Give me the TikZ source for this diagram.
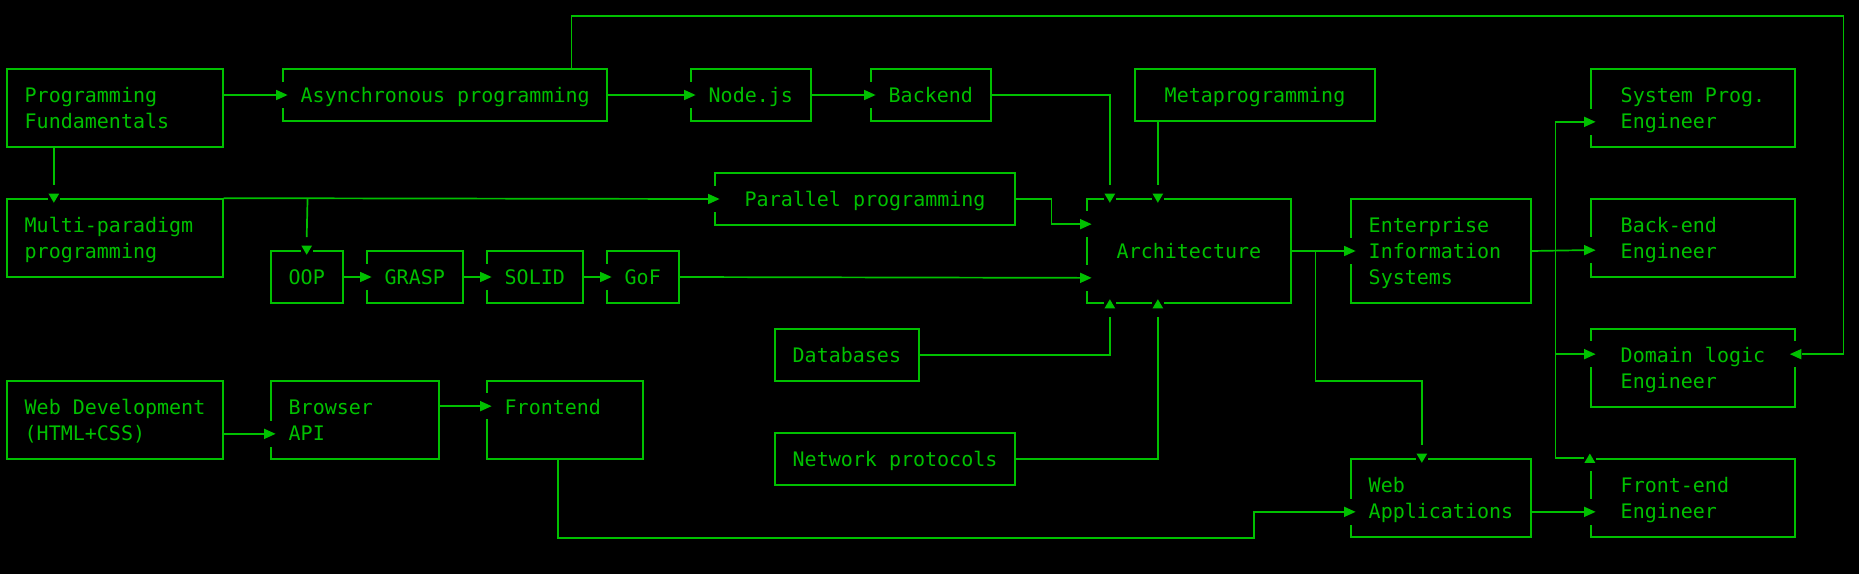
\documentclass[tikz,border=0pt]{standalone}
\usepackage{fontspec}
\newfontfamily\termfont{DejaVu Sans Mono}
\usetikzlibrary{calc,fit}
\definecolor{term}{RGB}{0,192,0}
\tikzset{
  gbox/.style={draw=term, line width=0.85pt, inner sep=0pt, minimum width=0pt, minimum height=0pt},
  txt/.style={anchor=base west, yshift=-3.85pt, inner sep=0pt, outer sep=0pt, text=term,
              font=\termfont\fontsize{10pt}{13pt}\selectfont},
  conn/.style={draw=term, line width=0.85pt},
  arR/.pic={\fill[black] (-0.9pt,-6.5pt) rectangle (0.9pt,6.5pt);
            \fill[term] (-2.85pt,-2.6pt) -- (2.85pt,0pt) -- (-2.85pt,2.6pt) -- cycle;},
  arL/.pic={\fill[black] (-0.9pt,-6.5pt) rectangle (0.9pt,6.5pt);
            \fill[term] (2.85pt,-2.6pt) -- (-2.85pt,0pt) -- (2.85pt,2.6pt) -- cycle;},
  arD/.pic={\fill[black] (-3pt,-0.9pt) rectangle (3pt,0.9pt);
            \fill[term] (-2.7pt,2.3pt) -- (2.7pt,2.3pt) -- (0pt,-2.3pt) -- cycle;},
  arU/.pic={\fill[black] (-3pt,-0.9pt) rectangle (3pt,0.9pt);
            \fill[term] (-2.7pt,-2.3pt) -- (2.7pt,-2.3pt) -- (0pt,2.3pt) -- cycle;},
  arUc/.pic={\fill[black] (-3pt,-0.9pt) rectangle (3pt,0.9pt);
             \fill[black] (-0.9pt,0.9pt) rectangle (0.9pt,-6.5pt);
             \fill[term] (-2.7pt,-2.3pt) -- (2.7pt,-2.3pt) -- (0pt,2.3pt) -- cycle;},
}
\newcommand\gbox[5]{\node[gbox, fit={(#2,#3) (#4,#5)}] (#1) {};}
\newcommand\ttext[4]{\node[txt] (#1) at (#2-0.5,#3) {#4};}
\begin{document}
\begin{tikzpicture}[x=6pt,y=-13pt]
\fill[black] (-0.55833,-0.653846) rectangle (154.35833,21.423077);
\useasboundingbox (-0.55833,-0.653846) rectangle (154.35833,21.423077);

% boxes
\gbox{pf}{0}{2}{18}{5}
\gbox{async}{23}{2}{50}{4}
\gbox{node}{57}{2}{67}{4}
\gbox{backend}{72}{2}{82}{4}
\gbox{meta}{94}{2}{114}{4}
\gbox{multi}{0}{7}{18}{10}
\gbox{par}{59}{6}{84}{8}
\gbox{oop}{22}{9}{28}{11}
\gbox{grasp}{30}{9}{38}{11}
\gbox{solid}{40}{9}{48}{11}
\gbox{gof}{50}{9}{56}{11}
\gbox{arch}{90}{7}{107}{11}
\gbox{eis}{112}{7}{127}{11}
\gbox{sysprog}{132}{2}{149}{5}
\gbox{backeng}{132}{7}{149}{10}
\gbox{domain}{132}{12}{149}{15}
\gbox{fronteng}{132}{17}{149}{20}
\gbox{webapp}{112}{17}{127}{20}
\gbox{webdev}{0}{14}{18}{17}
\gbox{browser}{22}{14}{36}{17}
\gbox{frontend}{40}{14}{53}{17}
\gbox{db}{64}{12}{76}{14}
\gbox{net}{64}{16}{84}{18}

% texts
\ttext{pf-1}{2}{3}{Programming}
\ttext{pf-2}{2}{4}{Fundamentals}
\ttext{async-1}{25}{3}{Asynchronous programming}
\ttext{node-1}{59}{3}{Node.js}
\ttext{backend-1}{74}{3}{Backend}
\ttext{meta-1}{97}{3}{Metaprogramming}
\ttext{multi-1}{2}{8}{Multi-paradigm}
\ttext{multi-2}{2}{9}{programming}
\ttext{par-1}{62}{7}{Parallel programming}
\ttext{oop-1}{24}{10}{OOP}
\ttext{grasp-1}{32}{10}{GRASP}
\ttext{solid-1}{42}{10}{SOLID}
\ttext{gof-1}{52}{10}{GoF}
\ttext{arch-1}{93}{9}{Architecture}
\ttext{eis-1}{114}{8}{Enterprise}
\ttext{eis-2}{114}{9}{Information}
\ttext{eis-3}{114}{10}{Systems}
\ttext{sysprog-1}{135}{3}{System Prog.}
\ttext{sysprog-2}{135}{4}{Engineer}
\ttext{backeng-1}{135}{8}{Back-end}
\ttext{backeng-2}{135}{9}{Engineer}
\ttext{domain-1}{135}{13}{Domain logic}
\ttext{domain-2}{135}{14}{Engineer}
\ttext{fronteng-1}{135}{18}{Front-end}
\ttext{fronteng-2}{135}{19}{Engineer}
\ttext{webapp-1}{114}{18}{Web}
\ttext{webapp-2}{114}{19}{Applications}
\ttext{webdev-1}{2}{15}{Web Development}
\ttext{webdev-2}{2}{16}{(HTML+CSS)}
\ttext{browser-1}{24}{15}{Browser}
\ttext{browser-2}{24}{16}{API}
\ttext{frontend-1}{42}{15}{Frontend}
\ttext{db-1}{66}{13}{Databases}
\ttext{net-1}{66}{17}{Network protocols}

% target points
\coordinate (dl) at ($(domain.north east)+(0,1)$);

% connectors
\draw[conn] (pf.east |- async.west) -- ($(async.west)+(-0.5,0)$);
\draw[conn] (async.east) -- ($(node.west)+(-0.5,0)$);
\draw[conn] (node.east) -- ($(backend.west)+(-0.5,0)$);
\draw[conn] (backend.east) -| ($(arch.north west)+(2,-0.5)$);
\draw[conn] ($(meta.south west)+(2,0)$) -- ($(arch.north west)+(6,-0.5)$);
\draw[conn] ($(async.north east)+(-3,0)$) -- ++(0,-2) -| ($(dl)+(4,0)$) -- ($(dl)+(0.5,0)$);
\draw[conn] ($(pf.south west)+(4,0)$) -- ($(multi.north west)+(4,-0.5)$);
\draw[conn] (multi.north east) -- ($(par.west)+(-0.5,0)$);
\draw[conn] ($(multi.north east)+(7,0)$) -- ($(oop.north)+(0,-0.5)$);
\draw[conn] (par.east) -- ++(3,0) |- ($(arch.north west)+(-0.5,1)$);
\draw[conn] (oop.east) -- ($(grasp.west)+(-0.5,0)$);
\draw[conn] (grasp.east) -- ($(solid.west)+(-0.5,0)$);
\draw[conn] (solid.east) -- ($(gof.west)+(-0.5,0)$);
\draw[conn] (gof.east) -- ($(arch.south west)+(-0.5,-1)$);
\draw[conn] (db.east) -| ($(arch.south west)+(2,0.5)$);
\draw[conn] (net.east) -| ($(arch.south west)+(6,0.5)$);
\draw[conn] (arch.east) -- ($(eis.west)+(-0.5,0)$);
\draw[conn] ($(arch.east)+(2,0)$) -- ++(0,5) -| ($(webapp.north west)+(6,-0.5)$);
\draw[conn] ($(frontend.south west)+(6,0)$) -- ++(0,3) -- ++(58,0) |- ($(webapp.south west)+(-0.5,-1)$);
\draw[conn] ($(webdev.south east)+(0,-1)$) -- ($(browser.south west)+(-0.5,-1)$);
\draw[conn] ($(browser.north east)+(0,1)$) -- ($(frontend.north west)+(-0.5,1)$);
\draw[conn] (eis.east) -- ($(backeng.north west)+(-0.5,2)$);
\draw[conn] ($(eis.east)+(2,0)$) |- ($(sysprog.south west)+(-0.5,-1)$);
\draw[conn] ($(eis.east)+(2,0)$) |- ($(domain.north west)+(-0.5,1)$);
\draw[conn] ($(eis.east)+(2,0)$) |- ($(fronteng.north west)+(-0.5,0)$);
\draw[conn] ($(webapp.south east)+(0,-1)$) -- ($(fronteng.south west)+(-0.5,-1)$);

% arrowheads
\pic at (async.west) {arR};
\pic at (node.west) {arR};
\pic at (backend.west) {arR};
\pic at ($(arch.north west)+(2,0)$) {arD};
\pic at ($(arch.north west)+(6,0)$) {arD};
\pic at (dl) {arL};
\pic at ($(multi.north west)+(4,0)$) {arD};
\pic at (par.west) {arR};
\pic at (oop.north) {arD};
\pic at ($(arch.north west)+(0,1)$) {arR};
\pic at (grasp.west) {arR};
\pic at (solid.west) {arR};
\pic at (gof.west) {arR};
\pic at ($(arch.south west)+(0,-1)$) {arR};
\pic at ($(arch.south west)+(2,0)$) {arU};
\pic at ($(arch.south west)+(6,0)$) {arU};
\pic at (eis.west) {arR};
\pic at ($(webapp.north west)+(6,0)$) {arD};
\pic at ($(webapp.south west)+(0,-1)$) {arR};
\pic at ($(browser.south west)+(0,-1)$) {arR};
\pic at ($(frontend.north west)+(0,1)$) {arR};
\pic at ($(backeng.north west)+(0,2)$) {arR};
\pic at ($(sysprog.south west)+(0,-1)$) {arR};
\pic at ($(domain.north west)+(0,1)$) {arR};
\pic at (fronteng.north west) {arUc};
\pic at ($(fronteng.south west)+(0,-1)$) {arR};
\end{tikzpicture}
\end{document}
